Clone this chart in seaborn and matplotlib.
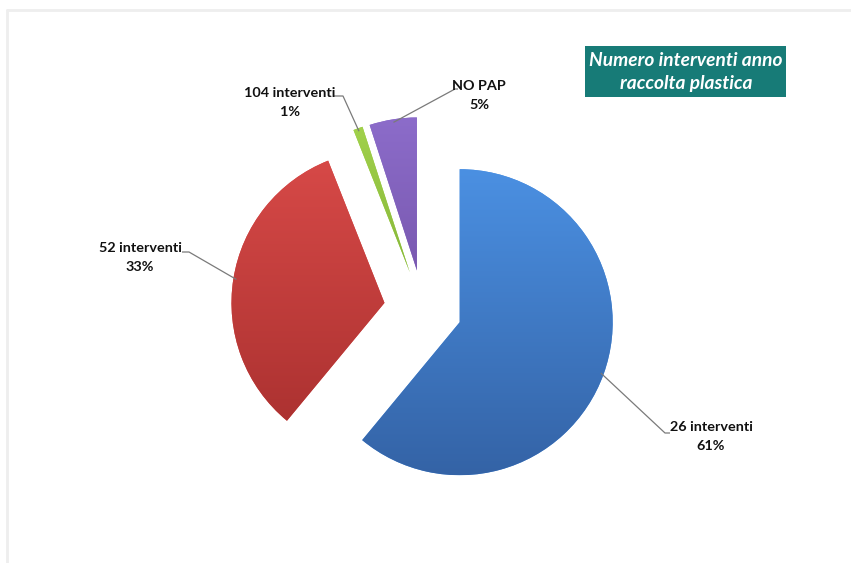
import numpy as np
import matplotlib
matplotlib.use("Agg")
import matplotlib.pyplot as plt
import matplotlib.patches as mpatches
from matplotlib.colors import to_rgb
import seaborn as sns

# Interventions per year for plastic collection
categories = ["26 interventi", "52 interventi", "104 interventi", "NO PAP"]
shares = [61, 33, 1, 5]
title_lines = ["Numero interventi anno", "raccolta plastica"]

top_colors = ["#4b90e2", "#d84a48", "#a2d24c", "#8c6cca"]
bottom_colors = ["#3463a6", "#a72f2e", "#6c9c28", "#674696"]

sns.set_style("white")
plt.rcParams["font.family"] = ["Lato", "DejaVu Sans"]

W, H = 851, 563
fig = plt.figure(figsize=(W / 100, H / 100), dpi=100)
fig.patch.set_facecolor("white")
ax = fig.add_axes([0, 0, 1, 1])


def P(x, y):
    """Pixel-style coordinates (origin top-left) to axes data coordinates."""
    return x, H - y


radius = 153
cx, cy = P(423, 309)
wedges, _ = ax.pie(
    shares,
    colors=top_colors,
    startangle=90,
    counterclock=False,
    radius=radius,
    center=(cx, cy),
    explode=[39] * len(shares),
    wedgeprops=dict(linewidth=0.6, edgecolor="none"),
)

# vertical light-to-dark shading inside every slice
for w, c_top, c_bot in zip(wedges, top_colors, bottom_colors):
    wx, wy = w.center
    t = np.linspace(0, 1, 256)[:, None]
    a, b = np.array(to_rgb(c_bot)), np.array(to_rgb(c_top))
    grad = (a[None, :] * (1 - t) + b[None, :] * t)[:, None, :]
    im = ax.imshow(grad, extent=(wx - radius, wx + radius, wy - radius, wy + radius),
                   origin="lower", aspect="auto", zorder=w.get_zorder() + 0.1,
                   interpolation="bilinear")
    im.set_clip_path(w)

# data labels with leader lines
label_layout = [
    # (text centre x, first line y, elbow point, end point)
    (711, 427, (665, 433), (670, 433)),
    (140, 248, (189, 252), (182, 252)),
    (290, 93, (343, 96), (333, 96)),
    (479, 86, (455, 89), (458, 89)),
]
for w, name, share, (tx, ty, elbow, end) in zip(wedges, categories, shares, label_layout):
    mid = np.deg2rad((w.theta1 + w.theta2) / 2)
    ax_, ay_ = w.center[0] + 0.98 * radius * np.cos(mid), w.center[1] + 0.98 * radius * np.sin(mid)
    ex, ey = P(*elbow)
    nx, ny = P(*end)
    ax.plot([ax_, ex, nx], [ay_, ey, ny], color="#7a7a7a", lw=0.9, zorder=5,
            solid_capstyle="butt")
    ax.text(*P(tx, ty), name, ha="center", va="center", fontsize=10.4,
            fontweight="bold", color="#111111", zorder=6)
    ax.text(*P(tx, ty + 19), f"{share}%", ha="center", va="center", fontsize=10.4,
            fontweight="bold", color="#111111", zorder=6)

# title box
bx0, by0 = P(585, 97)
ax.add_patch(mpatches.Rectangle((bx0, by0), 786 - 585, 97 - 46, facecolor="#177b77",
                                edgecolor="none", zorder=6))
for i, line in enumerate(title_lines):
    ax.text(*P(686, 61 + i * 23), line, ha="center", va="center", fontsize=13.8,
            fontweight="bold", fontstyle="italic", color="white", zorder=7)

# light frame along the top and left of the chart area
ax.plot([7, W], [H - 9.5, H - 9.5], color="#eeeeee", lw=2, zorder=1)
ax.plot([7, 7], [H - 9.5, 0], color="#eeeeee", lw=2, zorder=1)

ax.set_xlim(0, W)
ax.set_ylim(0, H)
ax.set_aspect("auto")
ax.axis("off")

fig.savefig("out.png", dpi=100, facecolor="white")
